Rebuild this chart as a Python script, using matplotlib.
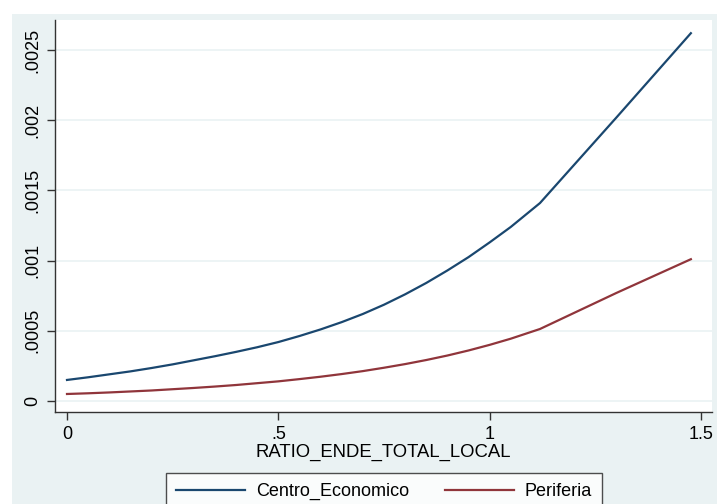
import matplotlib.pyplot as plt
from matplotlib.patches import Rectangle

# values
ratio = [0, 0.05, 0.1, 0.15, 0.2, 0.25, 0.3, 0.35, 0.4, 0.45, 0.5, 0.55, 0.6,
         0.65, 0.7, 0.75, 0.8, 0.85, 0.9, 0.95, 1.0, 1.05, 1.119, 1.3, 1.476]
centro = [0.00015, 0.000169, 0.00019, 0.000211, 0.000235, 0.000261, 0.00029,
          0.000319, 0.00035, 0.000383, 0.00042, 0.000463, 0.00051, 0.000562,
          0.00062, 0.000686, 0.00076, 0.000841, 0.00093, 0.001025, 0.00113,
          0.00124, 0.00141, 0.00202, 0.00262]
periferia = [0.00005, 0.000055, 0.000061, 0.000068, 0.000075, 0.000084, 0.000093,
             0.000103, 0.000114, 0.000127, 0.00014, 0.000156, 0.000173, 0.000192,
             0.000213, 0.000237, 0.000263, 0.000292, 0.000324, 0.00036, 0.0004,
             0.000444, 0.000513, 0.00077, 0.00101]
xticks = [0, 0.5, 1, 1.5]
xticklabels = ['0', '.5', '1', '1.5']
yticks = [0, 0.0005, 0.001, 0.0015, 0.002, 0.0025]
yticklabels = ['0', '.0005', '.001', '.0015', '.002', '.0025']

plt.rcParams['font.family'] = ['Liberation Sans', 'DejaVu Sans']

W, H = 717, 504
fig = plt.figure(figsize=(W / 100, H / 100), dpi=100)
fig.patch.set_facecolor('white')

# stata style outer background
bg = '#EAF2F3'
fig.add_artist(Rectangle((12 / W, 0), 1, 1 - 14 / H, transform=fig.transFigure,
                         facecolor=bg, edgecolor='none', zorder=-10))

ax = fig.add_axes([55 / W, 1 - 412 / H, (712 - 55) / W, (412 - 20) / H])
ax.set_facecolor('white')

ax.plot(ratio, centro, color='#1A476F', lw=1.6, label='Centro_Economico')
ax.plot(ratio, periferia, color='#90353B', lw=1.6, label='Periferia')

ax.set_xlim(-0.0284, 1.526)
ax.set_ylim(-0.0000783, 0.002714)
ax.set_xticks(xticks, labels=xticklabels)
ax.set_yticks(yticks, labels=yticklabels)
for lab in ax.get_yticklabels():
    lab.set_rotation(90)
    lab.set_va('center')
ax.tick_params(labelsize=13, length=6, width=1, color='#333333', pad=4)
ax.grid(axis='y', color=bg, lw=1.2)
ax.set_axisbelow(True)
for s in ['top', 'right']:
    ax.spines[s].set_visible(False)
for s in ['left', 'bottom']:
    ax.spines[s].set_color('#333333')
    ax.spines[s].set_linewidth(1)

ax.set_xlabel('RATIO_ENDE_TOTAL_LOCAL', fontsize=13.3, labelpad=1)

leg = fig.legend(loc='upper center', bbox_to_anchor=(384 / W, 1 - 473 / H), ncol=2,
                 fontsize=13, frameon=True, fancybox=False, handlelength=3.8,
                 handletextpad=0.6, columnspacing=2.0, borderpad=0.55,
                 borderaxespad=0)
leg.get_frame().set_edgecolor('#222222')
leg.get_frame().set_linewidth(1)

plt.savefig('out.png', dpi=100)
